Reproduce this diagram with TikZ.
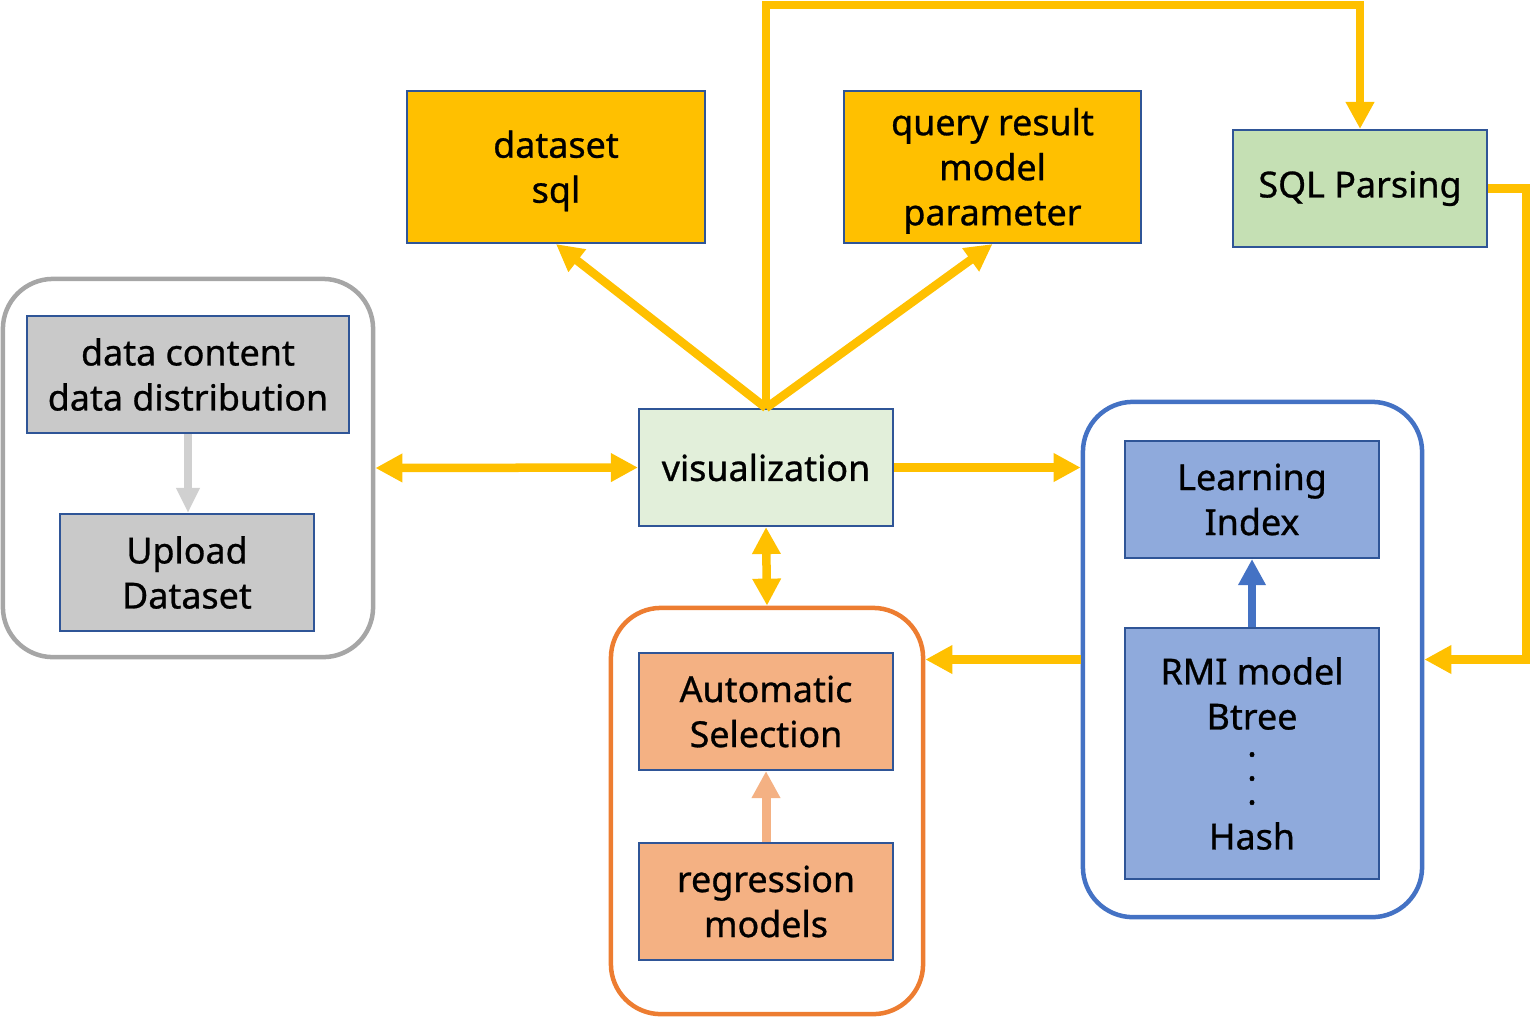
\documentclass[tikz,border=0pt]{standalone}
\usepackage{fontspec}
\setmainfont{Noto Sans}[FakeBold=0.8]
\usepackage{tikz}
\usetikzlibrary{arrows.meta,positioning,calc}
\definecolor{flowY}{HTML}{FFC000}
\definecolor{edgeB}{HTML}{2F5597}
\definecolor{dataG}{HTML}{C9C9C9}
\definecolor{dataGline}{HTML}{A6A6A6}
\definecolor{dataGarrow}{HTML}{D0D0D0}
\definecolor{vizG}{HTML}{E2EFDA}
\definecolor{sqlG}{HTML}{C5E0B4}
\definecolor{idxB}{HTML}{8FAADC}
\definecolor{idxBline}{HTML}{4472C4}
\definecolor{selO}{HTML}{F4B183}
\definecolor{selOline}{HTML}{ED7D31}

\begin{document}
\begin{tikzpicture}[
  x=0.01cm, y=-0.01cm,
  module/.style={draw=edgeB, line width=0.02cm, minimum width=2.54cm,
                 minimum height=1.17cm, align=center, inner sep=0pt,
                 font=\fontsize{10.2}{12.8}\selectfont},
  group/.style={draw, rounded corners=0.5cm, line width=0.045cm},
  flow/.style={draw=flowY, line width=0.085cm,
               -{Triangle[width=0.27cm,length=0.27cm]}},
  biflow/.style={flow, {Triangle[width=0.27cm,length=0.27cm]}-{Triangle[width=0.27cm,length=0.27cm]}}
]
\useasboundingbox (0,0) rectangle (1531,1017);

% groups
\node[group, draw=dataGline, minimum width=3.70cm, minimum height=3.78cm] (datagrp) at (188,468) {};
\node[group, draw=selOline, minimum width=3.12cm, minimum height=4.06cm] (selgrp) at (767,811) {};
\node[group, draw=idxBline, minimum width=3.39cm, minimum height=5.15cm] (idxgrp) at (1252.5,659.5) {};

% modules
\node[module, fill=dataG, minimum width=3.22cm] (content) at (188,374.5) {data content\\data distribution};
\node[module, fill=dataG] (upload) at (187,572.5) {Upload\\Dataset};
\node[module, fill=vizG] (viz) at (766,467.5) {visualization};
\node[module, fill=flowY, minimum width=2.98cm, minimum height=1.52cm] (dataset) at (556,167) {\rule{0pt}{0.35cm}dataset\\sql};
\node[module, fill=flowY, minimum width=2.97cm, minimum height=1.52cm] (query) at (992.5,167) {\rule{0pt}{0.35cm}query result\\model\\parameter};
\node[module, fill=sqlG] (sqlp) at (1360,188.5) {SQL Parsing};
\node[module, fill=idxB] (learn) at (1252,499.5) {Learning\\Index};
\node[module, fill=idxB, minimum height=2.51cm] (rmi) at (1252,753.5) {RMI model\\Btree\\[-0.18cm].\\[-0.21cm].\\[-0.21cm].\\Hash};
\node[module, fill=selO] (auto) at (766,711.5) {Automatic\\Selection};
\node[module, fill=selO] (regr) at (766,901.5) {regression\\models};

\coordinate (topbend) at (1360,5);
\coordinate (rightbend) at (1526,188.5);

% connectors
\draw[draw=dataGarrow, line width=0.08cm, -{Triangle[width=0.22cm,length=0.25cm]}]
  (content.south) -- (content.south |- upload.north);
\draw[draw=idxBline, line width=0.08cm, -{Triangle[width=0.26cm,length=0.26cm]}]
  (rmi.north) -- (learn.south);
\draw[draw=selO, line width=0.09cm, -{Triangle[width=0.27cm,length=0.27cm]}]
  (regr.north) -- (auto.south);

\draw[biflow] (datagrp.east) -- (viz.west);
\draw[flow] (viz.east) -- (viz.east -| idxgrp.west);
\draw[biflow] (viz.south) -- (selgrp.north);
\draw[flow] (viz.north) -- (dataset.south);
\draw[flow] (viz.north) -- (query.south);
\draw[flow] (viz.north) |- (topbend) -- (sqlp.north);
\draw[flow] (sqlp.east) -- (rightbend) |- (idxgrp.east);
\draw[flow] (idxgrp.west) -- (idxgrp.west -| selgrp.east);
\end{tikzpicture}
\end{document}
